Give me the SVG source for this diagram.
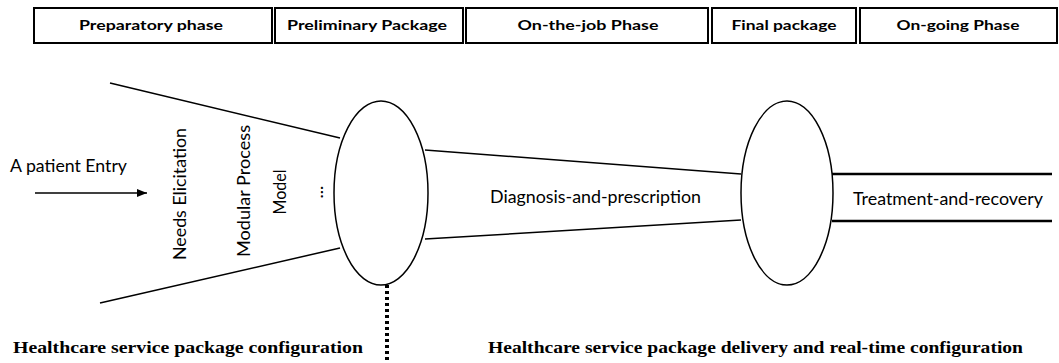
<svg xmlns="http://www.w3.org/2000/svg" width="1059" height="363" viewBox="0 0 1059 363">
<style>
.box{fill:#fff;stroke:#000;stroke-width:2}
.hd{font-family:Lato,"Open Sans",sans-serif;font-weight:bold;font-size:14px;text-anchor:middle}
.lbl{font-family:Lato,"Noto Sans",sans-serif;font-size:17px;fill:#000}
.vt{font-family:Lato,"Noto Sans",sans-serif;font-size:18px;fill:#000}
.ln{stroke:#000;stroke-width:1.5;fill:none}
.ell{fill:none;stroke:#000;stroke-width:1.5}
.ft{font-family:"Liberation Serif","Times New Roman",serif;font-weight:bold;font-size:17px}
</style>
<defs>
<marker id="ah" markerWidth="10" markerHeight="8" refX="10" refY="4" orient="auto" markerUnits="userSpaceOnUse">
<path d="M0,0 L10,4 L0,8 Z" fill="#000"/>
</marker>
</defs>
<rect width="1059" height="363" fill="#fff"/>
<g id="header">
<g id="h1"><rect class="box" x="34" y="8" width="238" height="35"/><text class="hd" x="151" y="30" textLength="144" lengthAdjust="spacingAndGlyphs">Preparatory phase</text></g>
<g id="h2"><rect class="box" x="275" y="8" width="188" height="35"/><text class="hd" x="367" y="30" textLength="160" lengthAdjust="spacingAndGlyphs">Preliminary Package</text></g>
<g id="h3"><rect class="box" x="466" y="8" width="242" height="35"/><text class="hd" x="588" y="30" textLength="141" lengthAdjust="spacingAndGlyphs">On-the-job Phase</text></g>
<g id="h4"><rect class="box" x="712" y="8" width="144" height="35"/><text class="hd" x="784" y="30" textLength="105" lengthAdjust="spacingAndGlyphs">Final package</text></g>
<g id="h5"><rect class="box" x="860" y="8" width="197" height="35"/><text class="hd" x="958" y="30" textLength="123" lengthAdjust="spacingAndGlyphs">On-going Phase</text></g>
</g>
<g id="connectors">
<line class="ln" x1="110" y1="83" x2="340" y2="138"/>
<line class="ln" x1="100" y1="303" x2="340" y2="248"/>
<line class="ln" x1="425" y1="150" x2="741" y2="174"/>
<line class="ln" x1="425" y1="239" x2="741" y2="220"/>
<line x1="832" y1="174" x2="1052" y2="174" stroke="#000" stroke-width="2.5"/>
<line x1="832" y1="221" x2="1052" y2="221" stroke="#000" stroke-width="2.5"/>
<line x1="35" y1="193" x2="147" y2="193" stroke="#000" stroke-width="1.5" marker-end="url(#ah)"/>
<line x1="387" y1="285" x2="387" y2="363" stroke="#000" stroke-width="4" stroke-dasharray="3,3"/>
</g>
<g id="entry"><text class="lbl" x="10" y="172" textLength="117" lengthAdjust="spacingAndGlyphs">A patient Entry</text></g>
<g id="preparatory">
<text class="vt" transform="translate(186,194) rotate(-90)" text-anchor="middle" textLength="132" lengthAdjust="spacingAndGlyphs">Needs Elicitation</text>
<text class="vt" transform="translate(250,191) rotate(-90)" text-anchor="middle" textLength="132" lengthAdjust="spacingAndGlyphs">Modular Process</text>
<text class="vt" transform="translate(286,192) rotate(-90)" text-anchor="middle" textLength="45" lengthAdjust="spacingAndGlyphs">Model</text>
<text class="vt" transform="translate(323,192) rotate(-90)" text-anchor="middle">...</text>
</g>
<g id="preliminary"><ellipse class="ell" cx="381" cy="193" rx="47" ry="92"/></g>
<g id="final"><ellipse class="ell" cx="787" cy="193" rx="46" ry="92"/></g>
<g id="diagnosis"><text class="lbl" x="490" y="203" textLength="211" lengthAdjust="spacingAndGlyphs">Diagnosis-and-prescription</text></g>
<g id="treatment"><text class="lbl" x="853" y="205" textLength="190" lengthAdjust="spacingAndGlyphs">Treatment-and-recovery</text></g>
<g id="footer">
<text class="ft" x="13" y="353" textLength="350" lengthAdjust="spacingAndGlyphs">Healthcare service package configuration</text>
<text class="ft" x="488" y="353" textLength="535" lengthAdjust="spacingAndGlyphs">Healthcare service package delivery and real-time configuration</text>
</g>
</svg>
